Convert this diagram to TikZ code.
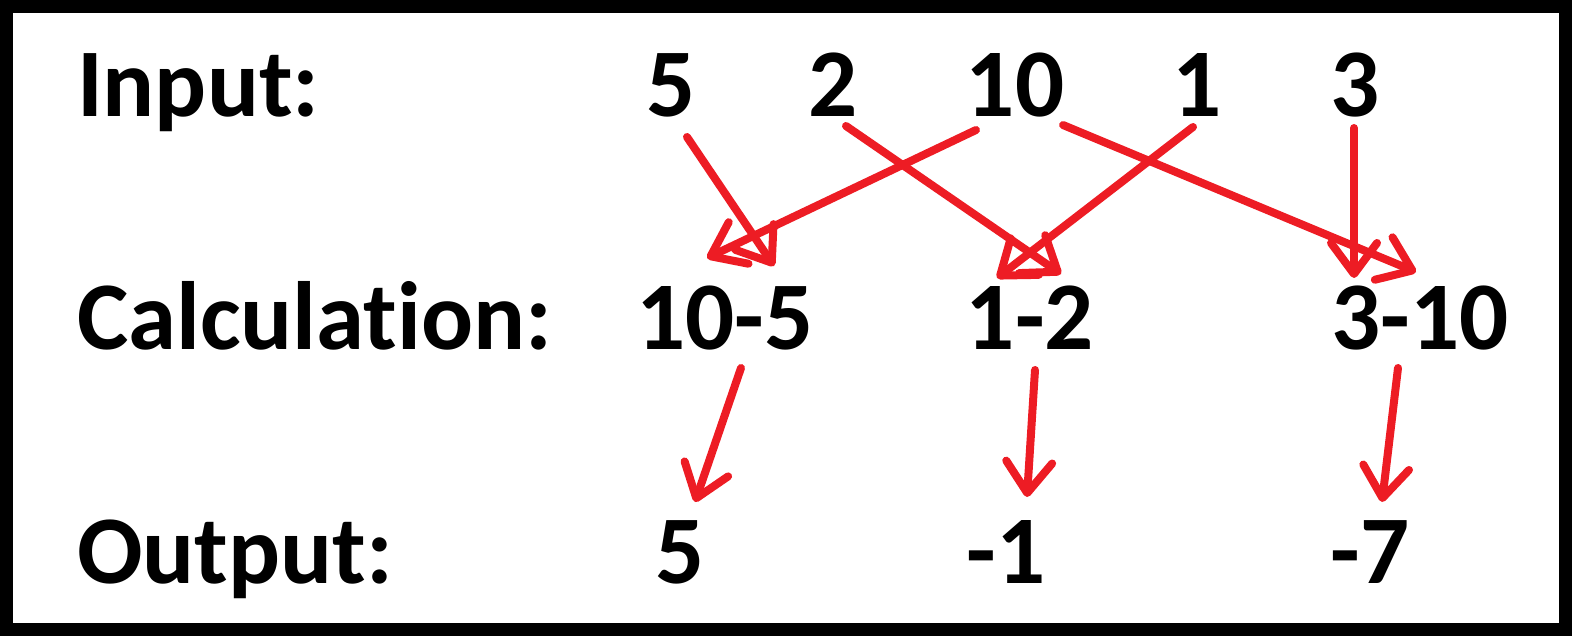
\documentclass[tikz,border=0pt]{standalone}
\usepackage{fontspec}
\setmainfont{Carlito}[Ligatures=NoCommon]
\usetikzlibrary{arrows.meta}
\definecolor{arrowred}{RGB}{237,28,36}

\begin{document}
\begin{tikzpicture}[x=1pt,y=-1pt,inner sep=0,outer sep=0,
		num/.style={anchor=base,font=\fontsize{97}{100}\selectfont\bfseries},
		lbl/.style={num,anchor=base west},
		arr/.style={arrowred,line width=8pt,line cap=round,
			-{Straight Barb[length=31pt,width=46pt,round]}}]
		\useasboundingbox (0,0) rectangle (1572,636);
		\draw[line width=13pt] (6.5,6.5) rectangle (1565.5,629.5);
		% row labels
		\node[lbl] (li) at (77,117) {Input:};
		\node[lbl] (lc) at (77,350) {Calculation:};
		\node[lbl] (lo) at (77,583) {Output:};
		% input
		\node[num] (i5) at (671,117) {5};
		\node[num] (i2) at (833,117) {2};
		\node[num] (i10) at (1015,117) {10};
		\node[num] (i1) at (1197,117) {1};
		\node[num] (i3) at (1355,117) {3};
		% calculation
		\node[num] (c1) at (725,350) {10-5};
		\node[num] (c2) at (1030,350) {1-2};
		\node[num] (c3) at (1420,350) {3-10};
		% output
		\node[num] (o1) at (680,583) {5};
		\node[num] (o2) at (1006,583) {-1};
		\node[num] (o3) at (1370,583) {-7};
		% arrows
		\draw[arr] ([shift={(16,20)}]i5.base) -- ([shift={(49,-84)}]c1.base);
		\draw[arr] ([shift={(-39,13)}]i10.base) -- ([shift={(-18,-92)}]c1.base);
		\draw[arr] ([shift={(13,9)}]i2.base) -- ([shift={(31,-76)}]c2.base);
		\draw[arr] ([shift={(-4,10)}]i1.base) -- ([shift={(-33,-72)}]c2.base);
		\draw[arr] ([shift={(48,8)}]i10.base) -- ([shift={(-4,-78)}]c3.base);
		\draw[arr] ([shift={(-1,11)}]i3.base) -- ([shift={(-66,-72)}]c3.base);
		\draw[arr] ([shift={(16,18)}]c1.base) -- ([shift={(15,-81)}]o1.base);
		\draw[arr] ([shift={(5,20)}]c2.base) -- ([shift={(21,-86)}]o2.base);
		\draw[arr] ([shift={(-22,18)}]c3.base) -- ([shift={(12,-81)}]o3.base);
\end{tikzpicture}
\end{document}
